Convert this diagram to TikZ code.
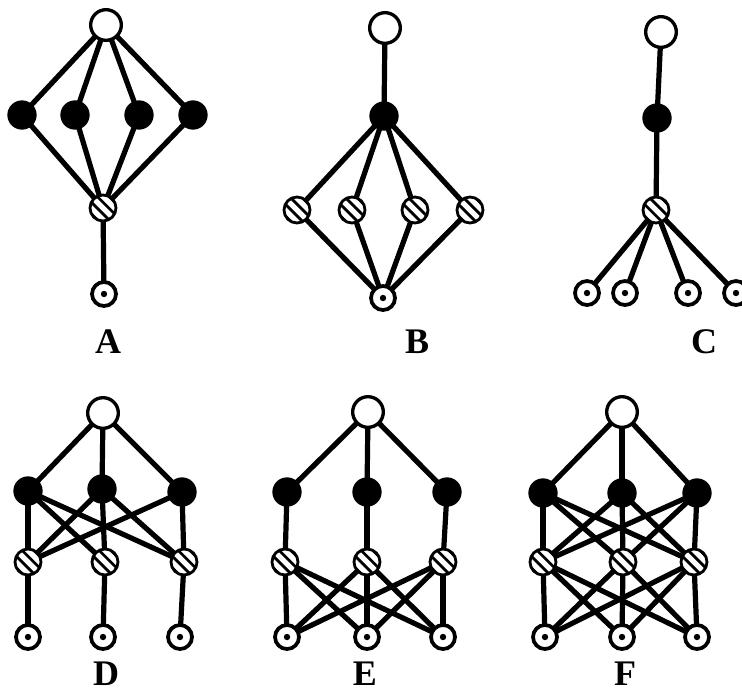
\documentclass[tikz,border=0pt]{standalone}
\usepackage{fontspec}
\setmainfont{Liberation Serif}
\usetikzlibrary{backgrounds}
\begin{document}
\begin{tikzpicture}[x=0.75pt,y=-0.75pt,
  wnode/.style={circle,draw=black,fill=white,line width=2.5pt,minimum size=23pt,inner sep=0pt},
  bnode/.style={circle,fill=black,minimum size=22pt,inner sep=0pt},
  hnode/.style={circle,draw=black,fill=white,line width=2.1pt,minimum size=19.5pt,inner sep=0pt,
    path picture={
      \foreach \s in {-6.6,-2.2,2.2,6.6}{
        \draw[line width=2pt] ([shift={(\s pt,\s pt)}]path picture bounding box.center) ++(-12pt,12pt) -- ++(24pt,-24pt);
      }}},
  dnode/.style={circle,draw=black,fill=white,line width=2.8pt,minimum size=18pt,inner sep=0pt,
    path picture={\fill[black] (path picture bounding box.center) circle (2.4pt);}},
  edge/.style={line width=3.9pt,black},
  lab/.style={font=\bfseries\fontsize{27}{30}\selectfont,inner sep=0pt}]
\useasboundingbox (0,0) rectangle (742,693);

% ---------- A ----------
\node[wnode] (A0) at (106,25) {};
\node[bnode] (A1) at (22,115) {};
\node[bnode] (A2) at (75,115) {};
\node[bnode] (A3) at (139,115) {};
\node[bnode] (A4) at (193,115) {};
\node[hnode] (Ah) at (103,208) {};
\node[dnode] (Ad) at (104,294) {};
\node[lab] (LA) at (108,342) {A};

% ---------- B ----------
\node[wnode] (B0) at (385,28) {};
\node[bnode] (Bb) at (384,116) {};
\node[hnode] (B1) at (297,210) {};
\node[hnode] (B2) at (352,210) {};
\node[hnode] (B3) at (415,210) {};
\node[hnode] (B4) at (470,210) {};
\node[dnode] (Bd) at (383,298) {};
\node[lab] (LB) at (417,342) {B};

% ---------- C ----------
\node[wnode] (C0) at (661,32) {};
\node[bnode] (Cb) at (657,118) {};
\node[hnode] (Ch) at (656,210) {};
\node[dnode] (C1) at (587,293) {};
\node[dnode] (C2) at (625,293) {};
\node[dnode] (C3) at (688,293) {};
\node[dnode] (C4) at (736,293) {};
\node[lab] (LC) at (704,342) {C};

% ---------- D ----------
\node[wnode] (D0) at (103,413) {};
\node[bnode] (Db1) at (28,491) {};
\node[bnode] (Db2) at (102,489) {};
\node[bnode] (Db3) at (182,492) {};
\node[hnode] (Dh1) at (28,562) {};
\node[hnode] (Dh2) at (105,562) {};
\node[hnode] (Dh3) at (184,562) {};
\node[dnode] (Dd1) at (28,637) {};
\node[dnode] (Dd2) at (103,637) {};
\node[dnode] (Dd3) at (180,637) {};
\node[lab] (LD) at (106,674) {D};

% ---------- E ----------
\node[wnode] (E0) at (368,412) {};
\node[bnode] (Eb1) at (287,492) {};
\node[bnode] (Eb2) at (367,492) {};
\node[bnode] (Eb3) at (447,492) {};
\node[hnode] (Eh1) at (285,562) {};
\node[hnode] (Eh2) at (367,562) {};
\node[hnode] (Eh3) at (443,562) {};
\node[dnode] (Ed1) at (287,637) {};
\node[dnode] (Ed2) at (367,637) {};
\node[dnode] (Ed3) at (443,637) {};
\node[lab] (LE) at (365,674) {E};

% ---------- F ----------
\node[wnode] (F0) at (622,412) {};
\node[bnode] (Fb1) at (543,493) {};
\node[bnode] (Fb2) at (622,493) {};
\node[bnode] (Fb3) at (697,493) {};
\node[hnode] (Fh1) at (543,562) {};
\node[hnode] (Fh2) at (623,562) {};
\node[hnode] (Fh3) at (694,562) {};
\node[dnode] (Fd1) at (545,637) {};
\node[dnode] (Fd2) at (622,637) {};
\node[dnode] (Fd3) at (697,637) {};
\node[lab] (LF) at (625,674) {F};

\begin{scope}[on background layer]
  % A
  \foreach \n in {A1,A2,A3,A4} {
    \draw[edge] (A0.center) -- (\n.center);
    \draw[edge] (\n.center) -- (Ah.center);
  }
  \draw[edge] (Ah.center) -- (Ad.center);
  % B
  \draw[edge] (B0.center) -- (Bb.center);
  \foreach \n in {B1,B2,B3,B4} {
    \draw[edge] (Bb.center) -- (\n.center);
    \draw[edge] (\n.center) -- (Bd.center);
  }
  % C
  \draw[edge] (C0.center) -- (Cb.center);
  \draw[edge] (Cb.center) -- (Ch.center);
  \foreach \n in {C1,C2,C3,C4} \draw[edge] (Ch.center) -- (\n.center);
  % D
  \foreach \i in {1,2,3} {
    \draw[edge] (D0.center) -- (Db\i.center);
    \draw[edge] (Db\i.center) -- (Dh\i.center);
    \draw[edge] (Dh\i.center) -- (Dd\i.center);
  }
  \draw[edge] (Db1.center) -- (Dh2.center);
  \draw[edge] (Db1.center) -- (Dh3.center);
  \draw[edge] (Db2.center) -- (Dh1.center);
  \draw[edge] (Db2.center) -- (Dh3.center);
  \draw[edge] (Db3.center) -- (Dh1.center);
  % E
  \foreach \i in {1,2,3} {
    \draw[edge] (E0.center) -- (Eb\i.center);
    \draw[edge] (Eb\i.center) -- (Eh\i.center);
    \foreach \j in {1,2,3} \draw[edge] (Eh\i.center) -- (Ed\j.center);
  }
  % F
  \foreach \i in {1,2,3} {
    \draw[edge] (F0.center) -- (Fb\i.center);
    \foreach \j in {1,2,3} {
      \draw[edge] (Fb\i.center) -- (Fh\j.center);
      \draw[edge] (Fh\i.center) -- (Fd\j.center);
    }
  }
\end{scope}
\end{tikzpicture}
\end{document}
